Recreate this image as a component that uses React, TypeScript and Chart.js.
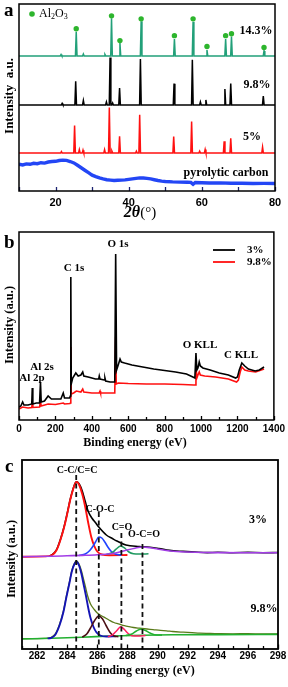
import React, { useEffect, useRef } from 'react';
import { Chart, registerables } from 'chart.js';
Chart.register(...registerables);

const SERIF = '"Liberation Serif", "DejaVu Serif", serif';
const SANS = '"Liberation Sans", Arial, sans-serif';

// ---------- Panel a : XRD ----------
const xrdMin = 10;
const xrdMax = 80;
const pos14 = [25.65, 35.3, 37.6, 43.4, 52.5, 57.6, 61.4, 66.5, 68.1, 77.0, 21.5, 27.6, 33.5];
const h14 = [24.5, 38, 13, 35, 17, 34.5, 6, 17, 19.5, 5, 1.5, 2, 1.5];
const base14 = 136.5;
const al2o3Marks = [25.65, 35.3, 37.6, 43.4, 52.5, 57.6, 61.4, 66.5, 68.1, 77.0];
const al2o3MarkY = [164, 177, 152, 174, 157, 174, 146, 157, 159, 145];

const pos98 = [25.5, 34.9, 37.5, 43.2, 52.4, 57.4, 61.1, 66.3, 67.9, 76.8, 27.6, 33.9, 59.6, 35.6, 21.8];
const h98 = [24, 48, 17, 46.5, 21.5, 45.7, 5, 16, 21.7, 9, 4.5, 3, 3, 2, 1.5];
const base98 = 87;

const pos5 = [25.2, 34.7, 37.5, 43.0, 52.3, 57.2, 60.9, 66.1, 67.9, 76.6, 26.5, 27.5, 33.4, 35.4, 42.1, 59.4, 21.6];
const h5 = [28, 46, 17, 38.7, 16.7, 32, 3.7, 12, 15, 6, 3.5, 3, 3.5, 2, 2, 2, 1.5];
const base5 = 38.3;

const carbonX = [10, 11, 12, 13, 14, 15, 16, 17, 18, 19, 20, 21, 22, 23, 24, 25, 26, 27, 28, 29, 30, 31, 32, 33, 34, 35, 36, 37, 38, 39, 40, 41, 42, 43, 44, 45, 46, 47, 48, 49, 50, 52, 54, 56, 57, 57.6, 58.2, 60, 62, 65, 68, 71, 74, 77, 80];
const carbonY = [27, 26.3, 27.4, 27, 28, 27.6, 28.6, 28.2, 29.3, 29.8, 30, 30.8, 31.2, 31, 29.8, 28.4, 26, 23.5, 21, 18.5, 16, 14.5, 13.2, 12.2, 11.4, 11, 10.6, 10.8, 11, 11.2, 11.8, 12.3, 12.8, 13.3, 13.2, 12.8, 12.2, 11.4, 10.6, 10, 9.6, 9.2, 9, 8.9, 8.7, 6.8, 8.6, 8.4, 8.1, 8.2, 7.9, 7.8, 7.6, 7.7, 7.6];

// ---------- Panel b : XPS survey ----------
const surv3X = [0, 10, 20, 27, 50, 70, 73, 76, 95, 113, 118, 122, 140, 160, 178, 230, 243, 250, 278, 282, 284.6, 287, 295, 312, 325, 340, 350, 356, 380, 420, 438, 441, 445, 468, 472, 476, 500, 526, 531, 536, 545, 555, 562, 580, 620, 680, 740, 800, 860, 920, 955, 966, 972, 977, 983, 990, 996, 1010, 1050, 1100, 1150, 1190, 1200, 1210, 1224, 1240, 1260, 1297, 1320, 1346];
const surv3Y = [13, 14, 18, 15, 15, 16, 32, 16, 17, 17, 38, 18, 19, 24, 21, 21, 27, 22, 22, 24, 143, 36, 42, 47, 44, 45, 48, 44, 43, 41, 41, 44, 41, 40, 42, 39, 38, 38, 166, 50, 55, 61, 58, 57, 55, 53, 51, 49.5, 48, 46, 43, 42, 67, 50, 52, 58, 54, 52, 50, 47, 45, 42, 43, 50, 57, 54, 51, 49, 50, 53];
const surv98X = [0, 20, 50, 70, 73, 76, 113, 118, 122, 160, 200, 243, 250, 280, 282, 284.6, 287, 300, 315, 340, 350, 356, 400, 440, 445, 448, 500, 526, 531, 534, 545, 600, 700, 800, 900, 960, 968, 972, 977, 983, 990, 996, 1020, 1080, 1150, 1195, 1205, 1215, 1224, 1240, 1260, 1300, 1346];
const surv98Y = [11, 13, 12, 12.5, 17, 12.5, 13, 19, 14, 16, 15.5, 17, 16, 16.5, 17, 73, 26, 27, 29, 28, 31, 28, 27, 27, 29, 27, 27, 27, 83, 36, 37, 36.5, 36, 36, 35.5, 35, 35, 55, 42, 45, 48, 45, 44, 43, 41, 38, 40, 48, 53, 50, 49, 48, 51];

// ---------- Panel c : C 1s ----------
const c3RedX = [281, 282.5, 283.0, 283.3, 283.55, 283.8, 284.0, 284.2, 284.4, 284.55, 284.65, 284.8, 285.0, 285.2, 285.4, 285.6, 285.8, 286.0, 286.3, 286.8, 288];
const c3RedY = [92.3, 92.6, 94, 99, 109, 122, 135, 149, 160, 166, 167, 164, 155, 142, 126, 112, 103, 97.5, 94.5, 93.8, 94];
const c3EnvX = [282.8, 283.0, 283.3, 283.55, 283.8, 284.0, 284.2, 284.4, 284.55, 284.65, 284.8, 285.0, 285.2, 285.4, 285.65, 285.9, 286.1, 286.6, 287.0, 287.3, 287.9, 288.8, 289.5, 290.1, 290.8, 291.7, 292.5, 293.3, 294, 295, 296, 297, 298];
const c3EnvY = [93, 94.3, 99.5, 109.5, 122.5, 135.5, 149.5, 160.5, 166.3, 167.3, 165, 158, 147.5, 137.5, 130.7, 126, 122, 114, 110.5, 108, 104, 102.5, 101.8, 100.5, 98.6, 97.6, 96.9, 96.4, 96.7, 96.3, 96.6, 96.3, 96.5];
const c3BlueX = [284.8, 285.2, 285.5, 285.7, 285.9, 286.1, 286.3, 286.5, 286.7, 286.9, 287.2, 287.6];
const c3BlueY = [93.6, 95, 98.5, 102.5, 107.5, 112, 111, 107, 102, 98, 95, 93.9];
const c3GreenX = [286.6, 287.0, 287.25, 287.55, 287.85, 288.1, 288.4, 288.8, 289.4];
const c3GreenY = [94.4, 96.5, 99.8, 103, 100.5, 97, 95.3, 95, 95.2];
const c3PurpleX = [281, 283, 284, 285, 286, 287, 287.8, 288.5, 289, 289.5, 290, 290.7, 291.5, 292.5, 294, 296, 298];
const c3PurpleY = [92.3, 92.8, 93.2, 93.6, 94.2, 95.5, 98.3, 100.8, 102, 101.3, 100, 98.3, 97.3, 96.7, 96.4, 96.3, 96.3];

const c9BaseX = [281, 283, 285, 287, 289, 291, 294, 298];
const c9BaseY = [10, 10.8, 11.8, 13, 13.8, 14.2, 14.4, 14.6];
const c9BlueX = [282.7, 282.9, 283.2, 283.5, 283.75, 283.95, 284.15, 284.3, 284.5, 284.62, 284.8, 284.95, 285.1, 285.25, 285.4, 285.55, 285.75, 285.95, 286.2, 286.6, 287.2];
const c9BlueY = [10.6, 11, 14, 24, 37, 52, 66, 77, 85.5, 87.3, 83, 75, 64, 53, 41, 31, 22, 16.5, 13.5, 12.5, 12.8];
const c9EnvX = [281, 282.5, 282.9, 283.2, 283.5, 283.75, 283.95, 284.15, 284.3, 284.5, 284.62, 284.8, 284.95, 285.1, 285.2, 285.35, 285.55, 285.8, 286.0, 286.3, 286.55, 286.8, 287.1, 287.4, 287.8, 288.1, 288.4, 288.8, 289.3, 289.7, 290.2, 290.6, 291.0, 291.7, 292.3, 292.8, 293.5, 294.2, 295, 296, 297, 298];
const c9EnvY = [10.3, 10.6, 11.5, 14.8, 25, 38, 53, 67, 78, 86.3, 88, 84.5, 78, 69, 63, 53.5, 45, 39.5, 36, 33, 31, 28.8, 26.5, 25.2, 23.3, 22.3, 21.5, 20.8, 20, 19.4, 18.6, 18.2, 17.5, 16.8, 16.3, 15.8, 15.6, 15.3, 15.2, 15.3, 15, 15.1];
const c9MaroonX = [285.0, 285.3, 285.55, 285.8, 286.1, 286.35, 286.6, 286.85, 287.1, 287.4];
const c9MaroonY = [11.8, 15, 21, 28, 33, 30, 23, 16.5, 13, 12.4];
const c9PinkX = [286.7, 287.0, 287.3, 287.55, 287.8, 288.05, 288.3, 288.7, 289.2];
const c9PinkY = [12.3, 14, 18.5, 22.3, 19.5, 15.5, 13.3, 13, 13.4];
const c9GreenX = [287.9, 288.3, 288.6, 288.9, 289.2, 289.5, 289.8, 290.3];
const c9GreenY = [13.6, 15, 18, 19.7, 18.5, 16, 14.3, 14.1];

const dashX = [284.6, 286.1, 287.6, 289.0];
const dashTop = [174, 137, 116, 105];

// ---------- helpers ----------
const zip = (xs: number[], ys: number[]) => xs.map((x, i) => ({ x, y: ys[i] }));

function peakTrace(base: number, pos: number[], h: number[]) {
  const idx = pos.map((_, i) => i).sort((a, b) => pos[a] - pos[b]);
  const pts = [{ x: xrdMin, y: base }];
  for (const i of idx) {
    pts.push({ x: pos[i] - 0.22, y: base }, { x: pos[i], y: base + h[i] }, { x: pos[i] + 0.22, y: base });
  }
  pts.push({ x: xrdMax, y: base });
  return pts;
}

type Seg = { t: string; font: string; dy?: number };
type TextItem = { x: number; y: number; segs: Seg[]; align?: 'left' | 'center'; rot?: number };

function textPlugin(items: TextItem[], extra?: (ctx: CanvasRenderingContext2D) => void) {
  return {
    id: 'texts',
    afterDraw(chart: any) {
      const ctx: CanvasRenderingContext2D = chart.ctx;
      ctx.save();
      ctx.fillStyle = '#000';
      ctx.textBaseline = 'middle';
      ctx.textAlign = 'left';
      for (const it of items) {
        ctx.save();
        ctx.translate(it.x, it.y);
        if (it.rot) ctx.rotate(it.rot);
        let w = 0;
        for (const s of it.segs) { ctx.font = s.font; w += ctx.measureText(s.t).width; }
        let cx = it.align === 'left' ? 0 : -w / 2;
        for (const s of it.segs) {
          ctx.font = s.font;
          ctx.fillText(s.t, cx, s.dy || 0);
          cx += ctx.measureText(s.t).width;
        }
        ctx.restore();
      }
      if (extra) extra(ctx);
      ctx.restore();
    },
  };
}

function framePlugin(tickColor: string, majorEvery: number, majorLen: number, minorLen: number, frameWidth: number) {
  return {
    id: 'frame',
    afterDatasetsDraw(chart: any) {
      const { ctx, chartArea: a, scales } = chart;
      const x = scales.x;
      ctx.save();
      ctx.strokeStyle = tickColor;
      ctx.lineWidth = 1.3;
      for (const t of x.ticks) {
        const px = Math.round(x.getPixelForValue(t.value)) + 0.5;
        const r = t.value / majorEvery;
        const major = Math.abs(r - Math.round(r)) < 1e-6;
        const len = major ? majorLen : minorLen;
        ctx.beginPath();
        ctx.moveTo(px, a.bottom);
        ctx.lineTo(px, a.bottom - len);
        ctx.stroke();
      }
      ctx.strokeStyle = '#000';
      ctx.lineWidth = frameWidth;
      ctx.strokeRect(a.left, a.top, a.right - a.left, a.bottom - a.top);
      ctx.restore();
    },
  };
}

const B = (px: number) => `bold ${px}px ${SERIF}`;
const N = (px: number) => `${px}px ${SERIF}`;

function baseOptions(opts: {
  xmin: number; xmax: number; step: number; labelEvery: number; ymax: number;
  pad: { left: number; right: number; top: number }; xHeight: number; tickPad: number; tickSize: number;
}) {
  return {
    responsive: false,
    animation: false as const,
    devicePixelRatio: 1,
    layout: { padding: { left: opts.pad.left, right: opts.pad.right, top: opts.pad.top, bottom: 0 } },
    plugins: { legend: { display: false }, tooltip: { enabled: false } },
    elements: { point: { radius: 0 }, line: { tension: 0 } },
    scales: {
      x: {
        type: 'linear' as const,
        min: opts.xmin,
        max: opts.xmax,
        grid: { display: false, drawTicks: false },
        border: { display: false },
        afterFit: (s: any) => { s.height = opts.xHeight; },
        ticks: {
          stepSize: opts.step,
          autoSkip: false,
          maxRotation: 0,
          padding: opts.tickPad,
          color: '#000',
          font: { family: SANS, size: opts.tickSize, weight: 'bold' as const },
          callback: (v: any) => {
            const r = v / opts.labelEvery;
            return Math.abs(r - Math.round(r)) < 1e-6 ? String(v) : '';
          },
        },
      },
      y: { type: 'linear' as const, display: false, min: 0, max: opts.ymax },
    },
  };
}

function line(data: any[], color: string, width: number, extra: any = {}) {
  return { data, borderColor: color, borderWidth: width, pointRadius: 0, fill: false, ...extra };
}

export default function App() {
  const refA = useRef<HTMLCanvasElement>(null);
  const refB = useRef<HTMLCanvasElement>(null);
  const refC = useRef<HTMLCanvasElement>(null);

  useEffect(() => {
    const charts: Chart[] = [];

    // ----- a -----
    const greenXrd = '#22a079';
    const aTexts: TextItem[] = [
      { x: 4, y: 11, align: 'left', segs: [{ t: 'a', font: B(19) }] },
      { x: 39, y: 14, align: 'left', segs: [
        { t: 'Al', font: N(12) }, { t: '2', font: N(8), dy: 3 }, { t: 'O', font: N(12) }, { t: '3', font: N(8), dy: 3 },
      ] },
      { x: 256, y: 31, segs: [{ t: '14.3%', font: B(12) }] },
      { x: 257, y: 85, segs: [{ t: '9.8%', font: B(12) }] },
      { x: 252, y: 137, segs: [{ t: '5%', font: B(12) }] },
      { x: 226, y: 173, segs: [{ t: 'pyrolytic carbon', font: B(12) }] },
      { x: 10, y: 96, rot: -Math.PI / 2, segs: [{ t: 'Intensity  a.u.', font: B(13) }] },
      { x: 140, y: 213, segs: [{ t: '2', font: `italic bold 16px ${SERIF}` }, { t: 'θ', font: `italic bold 16px ${SERIF}` }, { t: '(°)', font: N(15) }] },
    ];
    charts.push(new Chart(refA.current!, {
      type: 'line',
      data: {
        datasets: [
          { type: 'scatter', data: zip(al2o3Marks, al2o3MarkY), pointRadius: 2.7, pointBackgroundColor: '#2db52d', pointBorderWidth: 0, showLine: false, order: 0 } as any,
          line(peakTrace(base14, pos14, h14), greenXrd, 1.5, { order: 1 }),
          line(peakTrace(base98, pos98, h98), '#000000', 1.5, { order: 1 }),
          line(peakTrace(base5, pos5, h5), '#ff1010', 1.5, { order: 1 }),
          line(zip(carbonX, carbonY), '#2346f5', 3.4, { order: 1 }),
        ],
      },
      options: baseOptions({ xmin: xrdMin, xmax: xrdMax, step: 10, labelEvery: 20, ymax: 189, pad: { left: 19, right: 13, top: 2 }, xHeight: 31, tickPad: 5, tickSize: 11 }) as any,
      plugins: [framePlugin('#1c2470', 20, 4, 4, 1.5), textPlugin(aTexts, (ctx) => {
        ctx.fillStyle = '#2db52d';
        ctx.beginPath(); ctx.arc(32, 14, 2.8, 0, Math.PI * 2); ctx.fill();
      })],
    }));

    // ----- b -----
    const bTexts: TextItem[] = [
      { x: 4, y: 18, align: 'left', segs: [{ t: 'b', font: B(19) }] },
      { x: 118, y: 19, segs: [{ t: 'O 1s', font: B(11) }] },
      { x: 74, y: 43, segs: [{ t: 'C 1s', font: B(11) }] },
      { x: 42, y: 142, segs: [{ t: 'Al 2s', font: B(11) }] },
      { x: 32, y: 153, segs: [{ t: 'Al 2p', font: B(11) }] },
      { x: 200, y: 120, segs: [{ t: 'O KLL', font: B(11) }] },
      { x: 241, y: 130, segs: [{ t: 'C KLL', font: B(11) }] },
      { x: 247, y: 25, align: 'left', segs: [{ t: '3%', font: B(11) }] },
      { x: 247, y: 37, align: 'left', segs: [{ t: '9.8%', font: B(11) }] },
      { x: 10, y: 100, rot: -Math.PI / 2, segs: [{ t: 'Intensity (a.u.)', font: B(12.5) }] },
      { x: 135, y: 218, segs: [{ t: 'Binding energy (eV)', font: B(12) }] },
    ];
    charts.push(new Chart(refB.current!, {
      type: 'line',
      data: {
        datasets: [
          line(zip(surv3X, surv3Y), '#000000', 1.6),
          line(zip(surv98X, surv98Y), '#ff1010', 1.6),
        ],
      },
      options: baseOptions({ xmin: 0, xmax: 1400, step: 100, labelEvery: 200, ymax: 188, pad: { left: 19, right: 13, top: 7 }, xHeight: 30, tickPad: 3, tickSize: 10 }) as any,
      plugins: [framePlugin('#000', 200, 4, 3, 1.5), textPlugin(bTexts, (ctx) => {
        ctx.lineWidth = 1.8;
        ctx.strokeStyle = '#000';
        ctx.beginPath(); ctx.moveTo(213, 25); ctx.lineTo(235, 25); ctx.stroke();
        ctx.strokeStyle = '#ff1010';
        ctx.beginPath(); ctx.moveTo(213, 37); ctx.lineTo(235, 37); ctx.stroke();
      })],
    }));

    // ----- c -----
    const cTexts: TextItem[] = [
      { x: 5, y: 17, align: 'left', segs: [{ t: 'c', font: B(19) }] },
      { x: 77, y: 20, segs: [{ t: 'C-C/C=C', font: B(10) }] },
      { x: 100, y: 59, segs: [{ t: 'C-O-C', font: B(10) }] },
      { x: 122, y: 77, segs: [{ t: 'C=O', font: B(10) }] },
      { x: 144, y: 84, segs: [{ t: 'O-C=O', font: B(10) }] },
      { x: 258, y: 70, segs: [{ t: '3%', font: B(12) }] },
      { x: 264, y: 159, segs: [{ t: '9.8%', font: B(12) }] },
      { x: 12, y: 109, rot: -Math.PI / 2, segs: [{ t: 'Intensity (a.u.)', font: B(12.5) }] },
      { x: 143, y: 221, segs: [{ t: 'Binding energy (eV)', font: B(12) }] },
    ];
    const smooth = { cubicInterpolationMode: 'monotone' };
    const dashSets = dashX.map((x, i) => line([{ x, y: dashTop[i] }, { x, y: 0 }], '#111111', 1.8, { borderDash: [5, 3.5], order: 0 }));
    charts.push(new Chart(refC.current!, {
      type: 'line',
      data: {
        datasets: [
          ...dashSets,
          line(zip(c3PurpleX, c3PurpleY), '#a23ee6', 1.6, { ...smooth, order: 2 }),
          line(zip(c3GreenX, c3GreenY), '#1f9a60', 1.5, { ...smooth, order: 2 }),
          line(zip(c3BlueX, c3BlueY), '#2244ff', 1.6, { ...smooth, order: 2 }),
          line(zip(c3RedX, c3RedY), '#ff1010', 1.9, { ...smooth, order: 2 }),
          line(zip(c3EnvX, c3EnvY), '#000000', 1.6, { ...smooth, order: 3 }),
          line(zip(c9GreenX, c9GreenY), '#22b030', 1.5, { ...smooth, order: 2 }),
          line(zip(c9PinkX, c9PinkY), '#ff2060', 1.5, { ...smooth, order: 2 }),
          line(zip(c9MaroonX, c9MaroonY), '#4a0f14', 1.6, { ...smooth, order: 2 }),
          line(zip(c9BlueX, c9BlueY), '#1414b4', 1.9, { ...smooth, order: 2 }),
          line(zip(c9BaseX, c9BaseY), '#22b030', 1.6, { ...smooth, order: 2 }),
          line(zip(c9EnvX, c9EnvY), '#5a7a1a', 1.3, { ...smooth, order: 3 }),
        ],
      },
      options: baseOptions({ xmin: 281, xmax: 298, step: 1, labelEvery: 2, ymax: 189, pad: { left: 22, right: 10, top: 10 }, xHeight: 38, tickPad: 1, tickSize: 10 }) as any,
      plugins: [framePlugin('#000', 2, 4.5, 3, 1.8), textPlugin(cTexts)],
    }));

    return () => { charts.forEach((c) => c.destroy()); };
  }, []);

  const cv = (top: number): React.CSSProperties => ({ position: 'absolute', left: 0, top, display: 'block' });
  return (
    <div style={{ position: 'absolute', left: 0, top: 0, width: 288, height: 687, background: '#fff', overflow: 'hidden' }}>
      <canvas ref={refA} width={288} height={222} style={cv(0)} />
      <canvas ref={refB} width={288} height={225} style={cv(225)} />
      <canvas ref={refC} width={288} height={237} style={cv(450)} />
    </div>
  );
}
